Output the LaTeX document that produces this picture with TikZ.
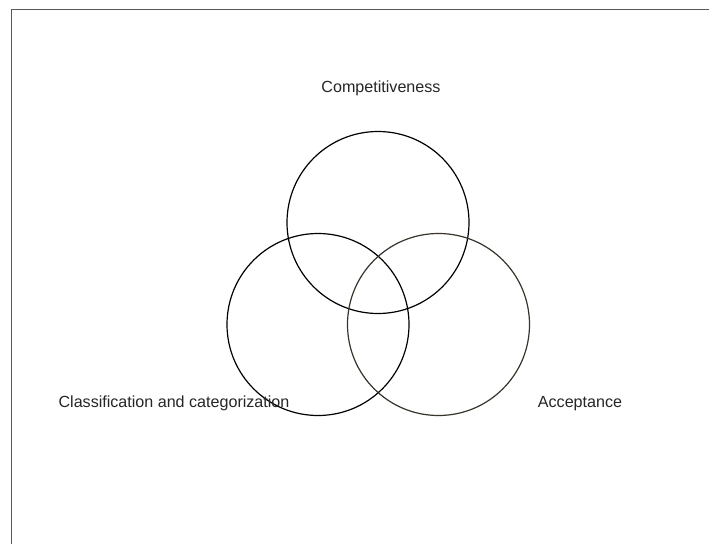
\documentclass[tikz,border=0pt]{standalone}
\usepackage{fontspec}
\setmainfont{Liberation Sans}
\begin{document}
\begin{tikzpicture}[x=1pt,y=-1pt,
  venn/.style={circle,draw=black,line width=1.2pt,minimum size=182pt,inner sep=0pt},
  lbl/.style={font=\fontsize{16.1}{19}\selectfont,text=black!85,anchor=base,inner sep=0pt},
  frame/.style={draw=black!65,line width=1.8pt}]
\useasboundingbox (0,0) rectangle (709,544);
\fill[white] (0,0) rectangle (709,544);
\coordinate (tl) at (11.5,9.5);
\coordinate (tr) at (709,9.5);
\coordinate (bl) at (11.5,544);
\draw[frame] (tr) -- (tl) -- (bl);
\node[venn] (top) at (378,222.5) {};
\node[venn] (left) at (318,324.5) {};
\node[venn,draw=black!80!olive] (right) at (438.5,324.5) {};
\node[lbl] (tc) at (381,92) {Competitiveness};
\node[lbl] (lc) at (174,407.5) {Classification and categorization};
\node[lbl] (rc) at (580,407.5) {Acceptance};
\end{tikzpicture}
\end{document}
